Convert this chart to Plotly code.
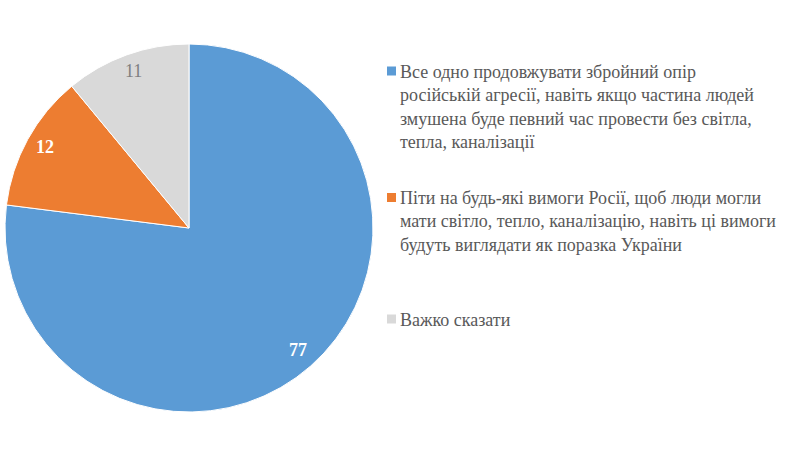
import math
import plotly.graph_objects as go

labels = [
    "Все одно продовжувати збройний опір<br>російській агресії, навіть якщо частина людей<br>змушена буде певний час провести без світла,<br>тепла, каналізації",
    "Піти на будь-які вимоги Росії, щоб люди могли<br>мати світло, тепло, каналізацію, навіть ці вимоги<br>будуть виглядати як поразка України",
    "Важко сказати",
]
values = [77, 12, 11]
colors = ["#5B9BD5", "#ED7D31", "#D9D9D9"]
text_colors = ["#FFFFFF", "#FFFFFF", "#7F7F7F"]
text_bold = [True, True, False]

W, H = 800, 468
CX, CY, R = 189, 228, 184  # pie centre / radius in px
SERIF = "Liberation Serif, Times New Roman, serif"
fig = go.Figure()
fig.add_trace(go.Pie(
    labels=labels, values=values, sort=False, direction="clockwise", rotation=0,
    marker=dict(colors=colors, line=dict(color="white", width=1)),
    textinfo="none",
    domain=dict(x=[(CX - R) / W, (CX + R) / W], y=[1 - (CY + R) / H, 1 - (CY - R) / H]),
    showlegend=False, hoverinfo="skip",
))

# data labels, placed near the outer edge of each slice (computed from values)
total = sum(values)
cum = 0
for v, tc, b in zip(values, text_colors, text_bold):
    mid = (cum + v / 2) / total * 2 * math.pi
    cum += v
    rr = 0.895 * R
    px = CX + rr * math.sin(mid)
    py = CY - rr * math.cos(mid) - 2
    txt = f"<b>{v}</b>" if b else str(v)
    fig.add_annotation(xref="paper", yref="paper", x=px / W, y=1 - py / H,
                       xanchor="center", yanchor="middle", showarrow=False, text=txt,
                       font=dict(family=SERIF, size=18, color=tc))

legend_tops = [59.5, 186, 307.5]
for lab, col, top in zip(labels, colors, legend_tops):
    mc = top + 11.5
    fig.add_shape(type="rect", xref="paper", yref="paper",
                  x0=387 / W, x1=396 / W, y0=1 - (mc - 4.5) / H, y1=1 - (mc + 4.5) / H,
                  fillcolor=col, line=dict(width=0))
    fig.add_annotation(xref="paper", yref="paper", x=398 / W, y=1 - top / H,
                       xanchor="left", yanchor="top", align="left", showarrow=False,
                       text=lab, font=dict(family=SERIF, size=18, color="#595959"))

fig.update_layout(width=W, height=H, margin=dict(l=0, r=0, t=0, b=0),
                  paper_bgcolor="white", plot_bgcolor="white")
fig.write_html("out.html", config={"displayModeBar": False},
               post_script="document.body.style.margin='0';")
